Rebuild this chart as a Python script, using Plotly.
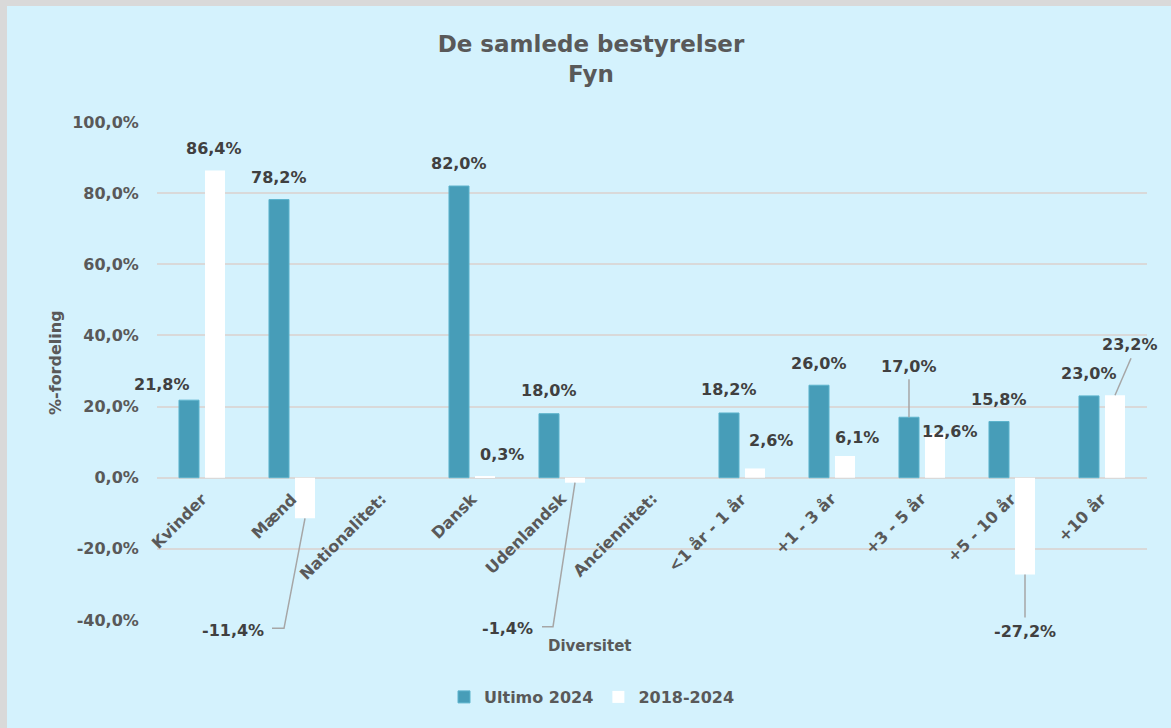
import plotly.graph_objects as go

# ---------------- data ----------------
categories = ["Kvinder", "Mænd", "Nationalitet:", "Dansk", "Udenlandsk", "Anciennitet:",
              "<1 år - 1 år", "+1 - 3 år", "+3 - 5 år", "+5 - 10 år", "+10 år"]
ultimo_2024 = [21.8, 78.2, None, 82.0, 18.0, None, 18.2, 26.0, 17.0, 15.8, 23.0]
change_2018_2024 = [86.4, -11.4, None, 0.3, -1.4, None, 2.6, 6.1, 12.6, -27.2, 23.2]
y_ticks = [-40, -20, 0, 20, 40, 60, 80, 100]

# ---------------- layout / style ----------------
OX, OY = 7, 6                       # page margin (grey edge) in screen px
W, H = 1171 - OX, 728 - OY          # figure size
# plot area in figure px
PL, PR, PT, PB = 157 - OX, 1147 - OX, 122 - OY, 620 - OY
YMIN, YMAX = -40, 100
n = len(categories)
XPX = (PR - PL) / n                 # px per category
YPX = (PB - PT) / (YMAX - YMIN)     # px per %
BARGAP, GROUPGAP = 0.422, 0.23
OFF = (1 - BARGAP) / 4              # center offset of each bar in group

BG = "#D4F2FD"
EDGE = "#D9D9D9"
TEAL = "#479DB8"
TXT = "#595959"
LBL = "#404040"
GRID = "#D9D9D9"
LEAD = "#A6A6A6"
FONT = "DejaVu Sans"

# label offsets (px, dx right, dy down) relative to bar end
ult_off = [(-27, -16), (0, -22), None, (0, -23), (0, -23), None,
           (0, -23), (0, -22), (0, -51), (0, -22), (0, -22)]
chg_off = [(-1, -22), (-72, 112), None, (17, -22), (-68, 146), None,
           (16, -28), (12, -19), (15, -1), (0, 57), (15, -51)]
# leader line polylines (px, relative to bar end)
ult_lead = {8: [(0, -38), (0, 0)]}
chg_lead = {1: [(-33, 110), (-21, 110), (0, 0)],
            4: [(-33, 144), (-22, 144), (0, 0)],
            9: [(0, 0), (0, 43)],
            10: [(16, -37), (0, 0)]}


def fmt(v):
    return f"{v:.1f}".replace(".", ",") + "%"


def px_paper_x(sx):   # screen x -> paper
    return (sx - OX - PL) / (PR - PL)


def px_paper_y(sy):   # screen y -> paper
    return (PB - (sy - OY)) / (PB - PT)


x_idx = list(range(n))
fig = go.Figure()
fig.add_trace(go.Bar(x=x_idx, y=ultimo_2024, name="Ultimo 2024",
                     marker=dict(color=TEAL, line=dict(color="#5DB3CC", width=1))))
fig.add_trace(go.Bar(x=x_idx, y=change_2018_2024, name="2018-2024",
                     marker=dict(color="#FFFFFF", line=dict(width=0))))

annotations = []
shapes = []


def add_labels(values, offsets, leads, sign):
    for i, v in enumerate(values):
        if v is None:
            continue
        xc = i + sign * OFF
        dx, dy = offsets[i]
        annotations.append(dict(x=xc, y=v, xref="x", yref="y", text=fmt(v),
                                showarrow=False, xshift=dx, yshift=-dy,
                                xanchor="center", yanchor="middle",
                                font=dict(family=FONT, size=16, color=LBL, weight="bold")))
        if i in leads:
            # paper coordinates so leader lines are not clipped to the plot area
            xp0 = (xc + 0.5) / n
            yp0 = (v - YMIN) / (YMAX - YMIN)
            path = ""
            for k, (px, py) in enumerate(leads[i]):
                xx = xp0 + px / (PR - PL)
                yy = yp0 - py / (PB - PT)
                path += ("M" if k == 0 else "L") + f"{xx},{yy} "
            shapes.append(dict(type="path", xref="paper", yref="paper", path=path.strip(),
                               line=dict(color=LEAD, width=1.5)))


add_labels(ultimo_2024, ult_off, ult_lead, -1)
add_labels(change_2018_2024, chg_off, chg_lead, +1)

# category labels, rotated, ending just below the zero line
for i, c in enumerate(categories):
    annotations.append(dict(x=i, y=0, xref="x", yref="y", text=c, textangle=-45,
                            showarrow=False, xanchor="right", yanchor="top",
                            xshift=11, yshift=-9,
                            font=dict(family=FONT, size=16, color=TXT, weight="bold")))

# axis titles
annotations.append(dict(x=px_paper_x(590), y=px_paper_y(646), xref="paper", yref="paper",
                        text="<b>Diversitet</b>", showarrow=False,
                        xanchor="center", yanchor="middle",
                        font=dict(family=FONT, size=15, color=TXT)))
annotations.append(dict(x=px_paper_x(55), y=px_paper_y(363), xref="paper", yref="paper",
                        text="<b>%-fordeling</b>", showarrow=False, textangle=-90,
                        xanchor="center", yanchor="middle",
                        font=dict(family=FONT, size=16, color=TXT)))

fig.update_layout(
    width=W, height=H,
    margin=dict(l=PL, r=W - PR, t=PT, b=H - PB, pad=0, autoexpand=False),
    paper_bgcolor=BG, plot_bgcolor=BG,
    barmode="group", bargap=BARGAP, bargroupgap=GROUPGAP,
    separators=",.",
    title=dict(text="<b>De samlede bestyrelser<br>Fyn</b>",
               x=(591 - OX) / W, xanchor="center", xref="container",
               y=1 - 46 / H, yanchor="top", yref="container",
               font=dict(family=FONT, size=23, color=TXT)),
    showlegend=True,
    legend=dict(orientation="h", x=(592 - OX) / W, xref="container", xanchor="center",
                y=1 - (697 - OY) / H, yref="container", yanchor="middle",
                font=dict(family=FONT, size=16, color=TXT, weight="bold"),
                bgcolor="rgba(0,0,0,0)", itemwidth=30, tracegroupgap=0),
    annotations=annotations,
    shapes=shapes,
    xaxis=dict(range=[-0.5, n - 0.5], tickmode="array", tickvals=x_idx,
               showticklabels=False,
               showgrid=False, zeroline=False, showline=False, automargin=False),
    yaxis=dict(range=[YMIN, YMAX], tickmode="array", tickvals=y_ticks,
               ticktext=[fmt(t) for t in y_ticks], automargin=False,
               showgrid=True, gridcolor=GRID, gridwidth=2,
               zeroline=True, zerolinecolor=GRID, zerolinewidth=2,
               showline=False, ticks="outside", ticklen=14, tickcolor="rgba(0,0,0,0)",
               tickfont=dict(family=FONT, size=16, color=TXT, weight="bold")),
)

fig.write_html(
    "out.html",
    post_script=(f"document.body.style.margin='{OY}px 0 0 {OX}px';"
                 f"document.body.style.background='{EDGE}';"
                 "document.body.style.overflow='hidden';"),
)
